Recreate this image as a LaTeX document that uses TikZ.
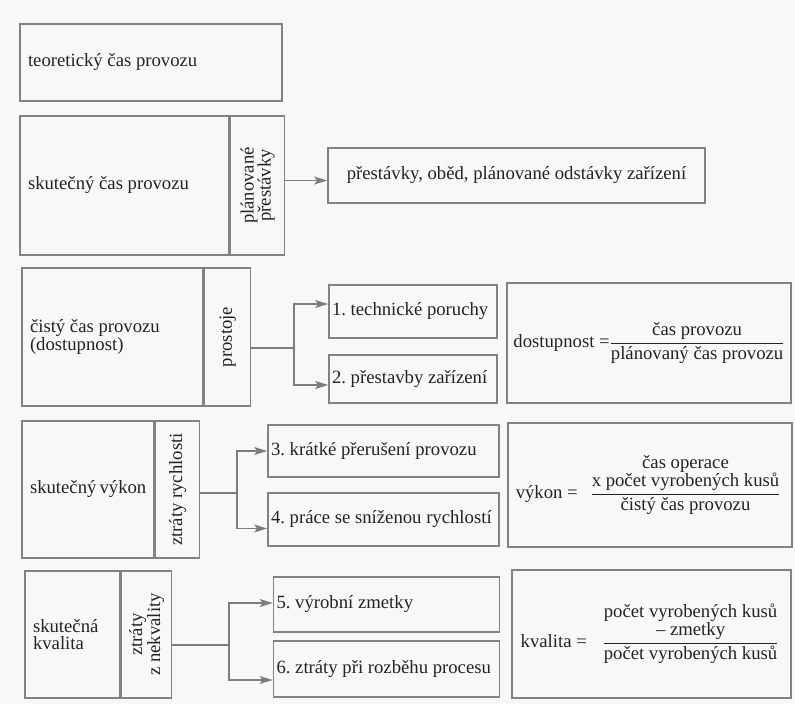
\documentclass[tikz,border=0pt]{standalone}
\usepackage{amsmath}
\usepackage{fontspec}
\setmainfont{Liberation Serif}
\usepackage{xcolor}
\usepackage{tikz}
\usetikzlibrary{positioning,arrows.meta}

\definecolor{papir}{RGB}{248,248,246}
\definecolor{linka}{RGB}{130,130,130}
\definecolor{sipkaseda}{RGB}{125,125,125}
\definecolor{tmava}{RGB}{35,35,35}

\begin{document}
\begin{tikzpicture}[x=1pt, y=-1pt,
    font=\fontsize{18.7pt}{17pt}\selectfont\frenchspacing, text=tmava,
    ram/.style={draw=linka, line width=1.6pt, inner xsep=8pt, inner ysep=0pt, align=flush left},
    sloupec/.style={draw=linka, line width=1.6pt, inner sep=0pt},
    popisek/.style={rotate=90, align=flush center, inner sep=0pt},
    polozka/.style={draw=linka, line width=1.6pt, inner xsep=3pt, inner ysep=0pt, align=flush left},
    vzorec/.style={draw=linka, line width=1.6pt, inner sep=0pt},
    spoj/.style={draw=sipkaseda, line width=1.5pt},
    sipka/.style={spoj, -{Stealth[length=13pt, width=8pt, inset=3pt]}}]

    % Paper
    \fill[papir] (0,0) rectangle (795,704);

    % Time levels
    \node[ram, text width=246pt, minimum height=77pt] (teor) at (151,62.5) {teoretický čas provozu};

    \node[ram, text width=193pt, minimum height=139pt] (skut) at (124.5,185.5) {skutečný čas provozu};
    \node[sloupec, right=0pt of skut, minimum width=54pt, minimum height=139pt] (plan) {};
    \node[popisek] at (plan) {plánované\\přestávky};

    \node[ram, text width=165pt, minimum height=138pt] (cist) at (112.5,337) {čistý čas provozu\\(dostupnost)};
    \node[sloupec, right=0pt of cist, minimum width=46pt, minimum height=138pt] (prost) {};
    \node[popisek] at (prost) {prostoje};

    \node[ram, text width=116pt, minimum height=137pt] (vyk) at (88,489.5) {skutečný~výkon};
    \node[sloupec, right=0pt of vyk, minimum width=44pt, minimum height=137pt] (rychl) {};
    \node[popisek] at (rychl) {ztráty rychlosti};

    \node[ram, text width=79pt, minimum height=127pt] (kval) at (72.5,634.5) {skutečná\\kvalita};
    \node[sloupec, right=0pt of kval, minimum width=50pt, minimum height=127pt] (nekv) {};
    \node[popisek] at (nekv) {ztráty\\z nekvality};

    % Losses
    \node[polozka, align=flush center, text width=371pt, minimum height=55pt] (prest) at (516.5,175.5) {přestávky, oběd, plánované odstávky zařízení};
    \node[polozka, text width=162pt, minimum height=53pt] (tech) at (413,311.5) {1. technické poruchy};
    \node[polozka, text width=162pt, minimum height=48pt] (prestavby) at (413,379) {2. přestavby zařízení};
    \node[polozka, text width=225pt, minimum height=52pt] (kratke) at (383.5,451) {3. krátké přerušení provozu};
    \node[polozka, text width=225pt, minimum height=53pt] (snizena) at (383.5,519.5) {4. práce se sníženou rychlostí};
    \node[polozka, text width=220pt, minimum height=55pt] (zmetky) at (386.5,604.5) {5. výrobní zmetky};
    \node[polozka, text width=220pt, minimum height=56pt] (rozbeh) at (386.5,669) {6. ztráty při rozběhu procesu};

    % Formulas
    \node[vzorec, minimum width=284pt, minimum height=120pt] (fdost) at (649,343)
        {dostupnost =$\dfrac{\text{čas provozu}}{\text{plánovaný čas provozu}}$};
    \node[vzorec, minimum width=284pt, minimum height=124pt] (fvykon) at (650,485)
        {výkon =\hspace{9pt}{\nulldelimiterspace=5pt
         $\dfrac{\text{\begin{tabular}{@{}c@{}}čas operace\\x počet vyrobených kusů\end{tabular}}}{\text{čistý čas provozu}}$}};
    \node[vzorec, minimum width=279pt, minimum height=128pt] (fkval) at (651.5,634)
        {kvalita =\hspace{12pt}{\nulldelimiterspace=5pt
         $\dfrac{\text{\begin{tabular}{@{}c@{}}počet vyrobených kusů\\– zmetky\end{tabular}}}{\text{počet vyrobených kusů}}$}};

    % Arrows
    \coordinate (v1) at ([yshift=5pt]plan.east);
    \draw[sipka] (v1) -- (v1 -| prest.west);

    \coordinate (v2) at (294,348);
    \draw[spoj] (prost.east |- v2) -- (v2);
    \draw[sipka] (v2) |- ([yshift=7.5pt]tech.west);
    \draw[sipka] (v2) |- ([yshift=-6pt]prestavby.west);

    \coordinate (v3) at (237,493);
    \draw[spoj] (rychl.east |- v3) -- (v3);
    \draw[sipka] (v3) |- (kratke.west);
    \draw[sipka] (v3) |- ([yshift=-9pt]snizena.west);

    \coordinate (v4) at (229,645);
    \draw[spoj] (nekv.east |- v4) -- (v4);
    \draw[sipka] (v4) |- ([yshift=1.5pt]zmetky.west);
    \draw[sipka] (v4) |- ([yshift=-11pt]rozbeh.west);
\end{tikzpicture}
\end{document}
